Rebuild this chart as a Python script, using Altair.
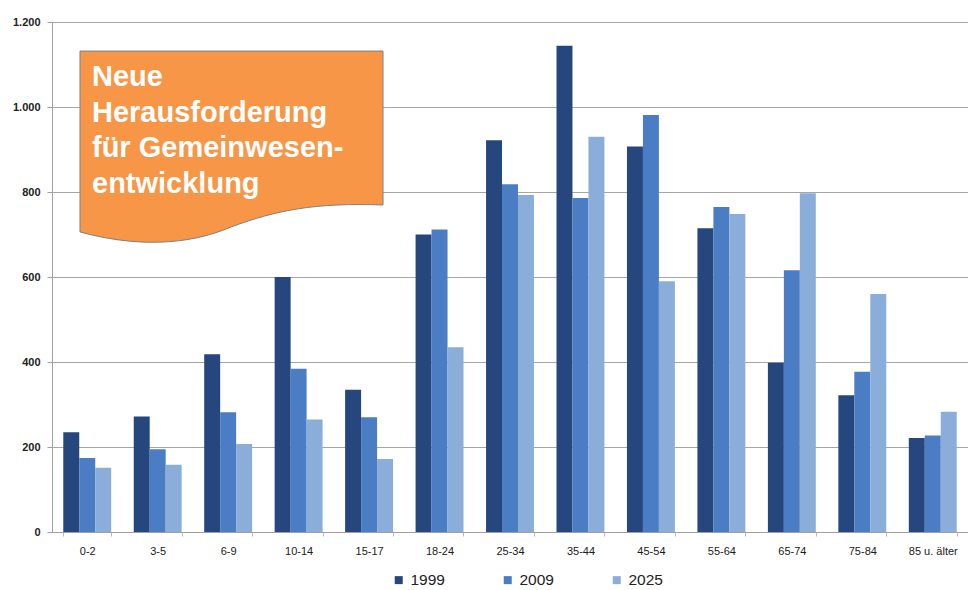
import altair as alt
import pandas as pd

# Population by age group for three reference years
age_groups = ["0-2", "3-5", "6-9", "10-14", "15-17", "18-24", "25-34",
              "35-44", "45-54", "55-64", "65-74", "75-84", "85 u. älter"]
years = ["1999", "2009", "2025"]
values_1999 = [235, 272, 418, 600, 335, 700, 922, 1144, 907, 715, 398, 322, 221]
values_2009 = [174, 195, 282, 384, 270, 712, 818, 786, 981, 765, 616, 377, 227]
values_2025 = [151, 158, 207, 265, 172, 435, 793, 930, 590, 748, 797, 560, 283]
year_colors = ["#26467E", "#4A7DC3", "#8AAED9"]
y_ticks = [0, 200, 400, 600, 800, 1000, 1200]
callout_lines = ["Neue", "Herausforderung", "für Gemeinwesen-", "entwicklung"]

FONT = "Liberation Sans"

rows = []
for year, series in zip(years, [values_1999, values_2009, values_2025]):
    for age, v in zip(age_groups, series):
        rows.append({"Altersgruppe": age, "Jahr": year, "Anzahl": v})
df = pd.DataFrame(rows)

bars = alt.Chart(df).mark_bar().encode(
    x=alt.X(
        "Altersgruppe:N",
        sort=age_groups,
        scale=alt.Scale(paddingInner=0.32, paddingOuter=0.16),
        axis=alt.Axis(
            title=None, labelAngle=0, tickBand="extent", tickSize=4,
            tickColor="#BBBBBB", domainColor="#A0A0A0", labelPadding=9,
            labelFont=FONT, labelFontSize=11, labelColor="#1A1A1A", grid=False,
        ),
    ),
    xOffset=alt.XOffset("Jahr:N", sort=years),
    y=alt.Y(
        "Anzahl:Q",
        scale=alt.Scale(domain=[0, 1200], nice=False),
        axis=alt.Axis(
            title=None, values=y_ticks,
            labelExpr="replace(format(datum.value, ','), ',', '.')",
            tickSize=5, tickColor="#A0A0A0", domainColor="#A0A0A0",
            labelPadding=7, labelFont=FONT, labelFontSize=11,
            labelFontWeight="bold", labelColor="#222222",
            grid=True, gridColor="#A6A6A6", gridWidth=1,
        ),
    ),
    color=alt.Color(
        "Jahr:N",
        sort=years,
        scale=alt.Scale(domain=years, range=year_colors),
        legend=alt.Legend(
            title=None, orient="none", direction="horizontal",
            legendX=339, legendY=550, symbolType="square", symbolSize=64,
            symbolStrokeWidth=0, labelFont=FONT, labelFontSize=15.5,
            labelColor="#222222", labelOffset=4, columnPadding=55,
        ),
    ),
)

# Orange callout with a wavy lower edge (custom symbol path, unit box -1..1)
callout_path = ("M -1 -0.63 L 1 -0.63 L 1 0.386 "
                "C 0.55 0.37 0.3 0.42 0.0 0.53 "
                "C -0.3 0.66 -0.65 0.66 -1 0.564 Z")
callout = alt.Chart(alt.Data(values=[{"k": 1}])).mark_point(
    shape=callout_path, size=303 * 303, filled=True, opacity=1,
    fill="#F79646", stroke="#808080", strokeWidth=1,
).encode(x=alt.value(179.5), y=alt.value(124.5))

callout_text = alt.Chart(
    alt.Data(values=[{"t": "\n".join(callout_lines)}])
).mark_text(
    align="left", baseline="alphabetic", font=FONT, fontSize=29,
    fontWeight="bold", color="white", lineHeight=35.5, lineBreak="\n",
).encode(x=alt.value(40), y=alt.value(64), text="t:N")

chart = alt.layer(bars, callout, callout_text).properties(
    width=916,
    height=510,
    padding={"left": 52, "top": 22, "right": 0, "bottom": 58},
    autosize=alt.AutoSizeParams(type="none"),
    background="white",
).configure_view(stroke=None)

chart.save("out.html", embed_options={"renderer": "svg", "actions": False})
